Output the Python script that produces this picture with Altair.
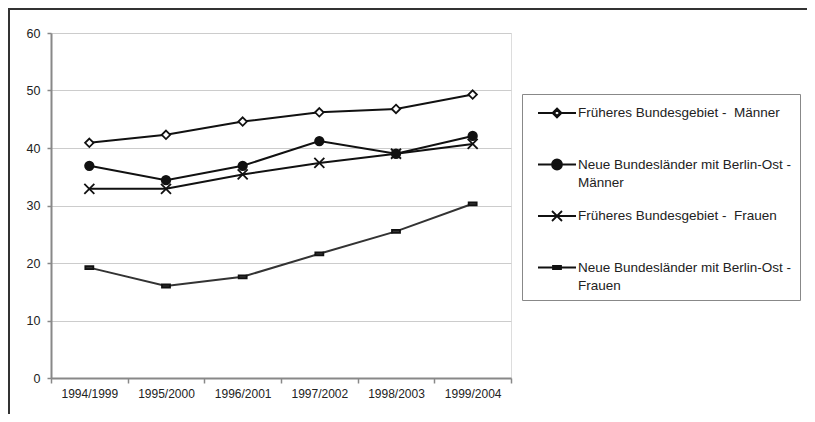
import altair as alt
import pandas as pd

periods = ["1994/1999", "1995/2000", "1996/2001", "1997/2002", "1998/2003", "1999/2004"]
series_names = [
    "Früheres Bundesgebiet -  Männer",
    "Neue Bundesländer mit Berlin-Ost - Männer",
    "Früheres Bundesgebiet -  Frauen",
    "Neue Bundesländer mit Berlin-Ost - Frauen",
]
west_men = [40.9, 42.3, 44.6, 46.2, 46.8, 49.3]
east_men = [36.9, 34.4, 36.9, 41.2, 39.0, 42.1]
west_women = [32.9, 32.9, 35.4, 37.4, 39.0, 40.7]
east_women = [19.2, 16.0, 17.6, 21.6, 25.5, 30.3]
y_ticks = [0, 10, 20, 30, 40, 50, 60]

rows = []
for name, vals in zip(series_names, [west_men, east_men, west_women, east_women]):
    for p, v in zip(periods, vals):
        rows.append({"period": p, "series": name, "value": v})
df = pd.DataFrame(rows)

FONT = "Arial, Liberation Sans, sans-serif"

# marker shapes on the chart (unit square)
marker_paths = [
    "M0,-0.85L0.85,0L0,0.85L-0.85,0Z",
    "M0.85,0A0.85,0.85,0,1,1,-0.85,0A0.85,0.85,0,1,1,0.85,0Z",
    "M-1,-1L1,1M-1,1L1,-1",
    "M-0.8,-0.3H0.8V0.3H-0.8Z",
]
# legend symbols: short line with marker
legend_paths = [
    "M-1.9,0H-0.45M0.45,0H1.9M0,-0.45L0.45,0L0,0.45L-0.45,0ZM0,-0.3L-0.3,0L0,0.3L0.3,0Z",
    "M-1.9,0H1.9M0.5,0A0.5,0.5,0,1,1,-0.5,0A0.5,0.5,0,1,1,0.5,0Z",
    "M-1.9,0H1.9M-0.5,-0.5L0.5,0.5M-0.5,0.5L0.5,-0.5",
    "M-1.9,0H1.9M-0.4,-0.15H0.4V0.15H-0.4Z",
]

x_enc = alt.X(
    "period:N",
    sort=periods,
    scale=alt.Scale(type="band", domain=periods, paddingInner=0, paddingOuter=0),
    axis=alt.Axis(
        title=None, labelAngle=0, tickBand="extent", grid=False,
        domainColor="#888888", domainWidth=2, tickColor="#888888", tickWidth=1.5,
        tickSize=5, labelPadding=5, labelFontSize=12, labelFont=FONT, labelColor="#222222",
    ),
)
y_enc = alt.Y(
    "value:Q",
    scale=alt.Scale(domain=[0, 60], nice=False, zero=True),
    axis=alt.Axis(
        title=None, values=y_ticks, grid=True, gridColor="#cccccc", gridWidth=1,
        domainColor="#888888", domainWidth=2, tickColor="#888888", tickWidth=1.5,
        tickSize=4, labelPadding=7, labelFontSize=12.5, labelFont=FONT, labelColor="#222222",
    ),
)

base = alt.Chart(df)

lines = base.mark_line(strokeWidth=2).encode(
    x=x_enc, y=y_enc, detail="series:N",
    color=alt.Color("series:N", scale=alt.Scale(domain=series_names,
                    range=["#111111", "#111111", "#111111", "#333333"]), legend=None),
)

points = base.mark_point(filled=False, stroke="#111111", strokeWidth=1.8, size=100, opacity=1).encode(
    x=x_enc, y=y_enc,
    shape=alt.Shape("series:N", scale=alt.Scale(domain=series_names, range=marker_paths), legend=None),
    fill=alt.Fill("series:N", scale=alt.Scale(domain=series_names,
                  range=["white", "#111111", "#111111", "#333333"]), legend=None),
)

label_expr = (
    "indexof(datum.label, 'Neue') == 0 ? "
    "[substring(datum.label, 0, lastindexof(datum.label, ' ')), "
    "substring(datum.label, lastindexof(datum.label, ' ') + 1)] : "
    "[replace(datum.label, '  ', ' \u00a0'), '']"
)

legend_layer = base.transform_filter("false").mark_point(
    filled=False, fill="#111111", stroke="#111111", strokeWidth=1.8, size=400
).encode(
    x=x_enc, y=y_enc,
    shape=alt.Shape(
        "series:N",
        scale=alt.Scale(domain=series_names, range=legend_paths),
        legend=alt.Legend(
            title=None, orient="none", legendX=471, legendY=61,
            padding=8, symbolSize=400, symbolStrokeWidth=1.8, symbolOpacity=1,
            symbolOffset=16, labelOffset=10, rowPadding=15.5,
            labelFont=FONT, labelFontSize=13.5, labelColor="#222222", labelLimit=0,
            fillColor="white", strokeColor="#888888",
            labelExpr=label_expr,
        ),
    ),
)

frame_data = alt.Data(values=[{"k": 1}])
frame_left = alt.Chart(frame_data).mark_rule(color="#333333", strokeWidth=2).encode(
    x=alt.value(-42), y=alt.value(-25), y2=alt.value(381)
)
frame_top = alt.Chart(frame_data).mark_rule(color="#333333", strokeWidth=2).encode(
    x=alt.value(-43), x2=alt.value(756), y=alt.value(-24)
)

chart = (
    alt.layer(frame_left, frame_top, lines, points, legend_layer)
    .resolve_scale(shape="independent", color="independent", fill="independent")
    .properties(
        width=460, height=345,
        autosize=alt.AutoSizeParams(type="none"),
        padding={"left": 43, "top": 25, "right": 296, "bottom": 36},
        background="white",
    )
    .configure_view(stroke="#888888", strokeWidth=2)
    .configure_legend(strokeWidth=1.5)
    .configure(style={"guide-label": {"lineHeight": 18}})
)

chart.save("out.html", embed_options={"renderer": "svg", "actions": False})
